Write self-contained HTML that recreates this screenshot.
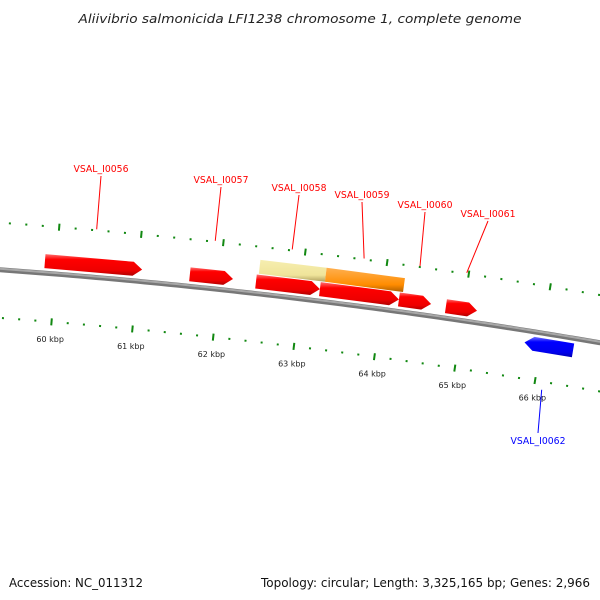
<!DOCTYPE html>
<html><head><meta charset="utf-8"><style>
html,body{margin:0;padding:0;background:#fff;}
svg{display:block;font-family:"DejaVu Sans","Liberation Sans",sans-serif;}
</style></head><body>
<svg id="chart" width="600" height="600" viewBox="0 0 600 600" xmlns="http://www.w3.org/2000/svg">
<defs>
<linearGradient id="gRed" x1="0" y1="0" x2="0" y2="1"><stop offset="0" stop-color="#ff7070"/><stop offset="0.25" stop-color="#ff0000"/><stop offset="0.75" stop-color="#ee0000"/><stop offset="1" stop-color="#b00000"/></linearGradient>
<linearGradient id="gBlue" x1="0" y1="0" x2="0" y2="1"><stop offset="0" stop-color="#7070ff"/><stop offset="0.25" stop-color="#0000ff"/><stop offset="0.75" stop-color="#0000ee"/><stop offset="1" stop-color="#0000b0"/></linearGradient>
<linearGradient id="gYel" x1="0" y1="0" x2="0" y2="1"><stop offset="0" stop-color="#f6eeb0"/><stop offset="0.7" stop-color="#f0e49a"/><stop offset="1" stop-color="#b0a060"/></linearGradient>
<linearGradient id="gOra" x1="0" y1="0" x2="0" y2="1"><stop offset="0" stop-color="#ffb050"/><stop offset="0.7" stop-color="#ff8c00"/><stop offset="1" stop-color="#b06000"/></linearGradient>
</defs>
<text x="300" y="23" text-anchor="middle" font-size="12.5" font-style="italic" fill="#222" textLength="443" lengthAdjust="spacingAndGlyphs">Aliivibrio salmonicida LFI1238 chromosome 1, complete genome</text>
<text x="9" y="587" font-size="12" fill="#111" textLength="134" lengthAdjust="spacingAndGlyphs">Accession: NC_011312</text>
<text x="261" y="587" font-size="12" fill="#111" textLength="329" lengthAdjust="spacingAndGlyphs">Topology: circular; Length: 3,325,165 bp; Genes: 2,966</text>
</svg>
<script>
// data
const geneNames = ["VSAL_I0056","VSAL_I0057","VSAL_I0058","VSAL_I0059","VSAL_I0060","VSAL_I0061","VSAL_I0062"];
const geneStarts = [59860,61635,62446,63231,64203,64782,65798];
const geneEnds = [61050,62164,63231,64203,64599,65165,66400];
const geneStrands = [1,1,1,1,1,1,-1];
const extraNames = ["feature-yellow","feature-orange"];
const extraStarts = [62470,63280];
const extraEnds = [63280,64240];
const tickLabels = ["60 kbp","61 kbp","62 kbp","63 kbp","64 kbp","65 kbp","66 kbp"];
const tickValues = [60000,61000,62000,63000,64000,65000,66000];
const labelX = [101,221,299,362,425,488,538];
const labelY = [172,183,191,198,208,217,444];

const svg = document.getElementById('chart');
const NS = 'http://www.w3.org/2000/svg';
const CX = -440, CY = 6392, R = 6138;
function ang(bp){ return 0.0808 + (bp-60000)*1.3333e-5; }
function pt(bp, r){ const a=ang(bp); return [CX + r*Math.sin(a), CY - r*Math.cos(a)]; }
function mk(tag, attrs){ const e=document.createElementNS(NS,tag); for(const k in attrs) e.setAttribute(k, attrs[k]); svg.appendChild(e); return e; }

// backbone
let d='';
for(let bp=59000; bp<=67400; bp+=100){ const p=pt(bp,R); d+=(d?'L':'M')+p[0].toFixed(2)+','+p[1].toFixed(2); }
const bb1 = mk('path',{d:d,fill:'none',stroke:'#777','stroke-width':5});


const bb2 = mk('path',{d:d,fill:'none',stroke:'#a8a8a8','stroke-width':2,transform:'translate(0,-1)'});



// ticks
for(let bp=59000; bp<=67400; bp+=200){
  const major = (bp % 1000) === 0;
  [[R+47,'top'],[R-48,'bottom']].forEach(([r,side])=>{
    const len = major?3.5:1;
    const a=pt(bp,r-len), b=pt(bp,r+len);
    const t = mk('line',{x1:a[0],y1:a[1],x2:b[0],y2:b[1],stroke:'#118811','stroke-width':2});
    
    
  });
}
tickValues.forEach((v,i)=>{
  const p=pt(v,R-65);
  const t=mk('text',{x:p[0],y:p[1]+3,'text-anchor':'middle','font-size':8,fill:'#222'});
  t.textContent=tickLabels[i];
  
  
});

function arrowPath(s,e,r0,r1,strand){
  const tip=110; let pts=[];
  if(strand>0){
    const eb=e-tip;
    pts=[pt(s,r0),pt(eb,r0),pt(e,(r0+r1)/2),pt(eb,r1),pt(s,r1)];
  } else {
    const sb=s+tip;
    pts=[pt(sb,r0),pt(e,r0),pt(e,r1),pt(sb,r1),pt(s,(r0+r1)/2)];
  }
  return 'M'+pts.map(p=>p[0].toFixed(2)+','+p[1].toFixed(2)).join('L')+'Z';
}
function barPath(s,e,r0,r1){
  const pts=[pt(s,r0),pt(e,r0),pt(e,r1),pt(s,r1)];
  return 'M'+pts.map(p=>p[0].toFixed(2)+','+p[1].toFixed(2)).join('L')+'Z';
}
function rotAt(bp){ return ang(bp)*180/Math.PI; }

// extra features (track 2)
const extraFills=['url(#gYel)','url(#gOra)'];
extraStarts.forEach((s,i)=>{
  const p=mk('path',{d:barPath(s,extraEnds[i],R+20,R+34),fill:extraFills[i]});
  
  
});

// genes
geneStarts.forEach((s,i)=>{
  const st=geneStrands[i];
  const r0 = st>0? R+5 : R-19, r1 = st>0? R+19 : R-5;
  const p=mk('path',{d:arrowPath(s,geneEnds[i],r0,r1,st),fill:st>0?'url(#gRed)':'url(#gBlue)'});
  
  
  // label line
  const mid=(s+geneEnds[i])/2;
  const col = st>0?'#ff0000':'#0000ff';
  const a = st>0? pt(mid,R+48) : pt(mid,R-56);
  const ly = st>0? labelY[i]+4 : labelY[i]-11;
  const ln=mk('line',{x1:a[0],y1:a[1],x2:labelX[i],y2:ly,stroke:col,'stroke-width':1});
  
  
  const t=mk('text',{x:labelX[i],y:labelY[i],'text-anchor':'middle','font-size':9.5,fill:col,textLength:55,lengthAdjust:'spacingAndGlyphs'});
  t.textContent=geneNames[i];
  
  
});
</script>
</body></html>
